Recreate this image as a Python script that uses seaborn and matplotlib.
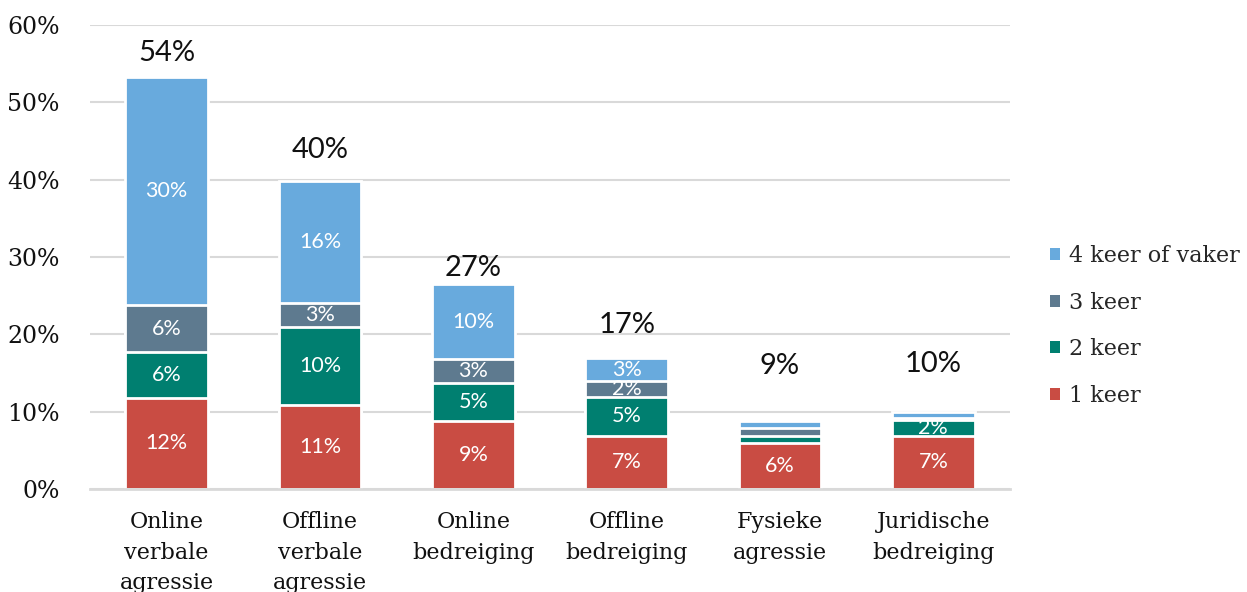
import matplotlib
matplotlib.use("Agg")
import matplotlib.pyplot as plt
import seaborn as sns
import numpy as np
import pandas as pd
from matplotlib.patches import Patch

categories = ["Online\nverbale\nagressie", "Offline\nverbale\nagressie", "Online\nbedreiging",
              "Offline\nbedreiging", "Fysieke\nagressie", "Juridische\nbedreiging"]
series_names = ["1 keer", "2 keer", "3 keer", "4 keer of vaker"]
keer1 = [11.8, 10.9, 8.8, 6.9, 6.0, 6.9]
keer2 = [5.9, 10.1, 4.9, 5.0, 0.9, 2.0]
keer3 = [6.1, 3.1, 3.1, 2.1, 1.0, 0.3]
keer4 = [29.5, 15.7, 9.7, 2.9, 0.9, 0.8]
seg_labels1 = ["12%", "11%", "9%", "7%", "6%", "7%"]
seg_labels2 = ["6%", "10%", "5%", "5%", "", "2%"]
seg_labels3 = ["6%", "3%", "3%", "2%", "", ""]
seg_labels4 = ["30%", "16%", "10%", "3%", "", ""]
total_labels = ["54%", "40%", "27%", "17%", "9%", "10%"]
total_label_y = [56.4, 43.8, 28.6, 21.2, 15.9, 16.2]
yticks = [0, 10, 20, 30, 40, 50, 60]
ytick_labels = ["0%", "10%", "20%", "30%", "40%", "50%", "60%"]
colors = ["#C94C43", "#007F70", "#5E7A8F", "#68AADD"]

sns.set_theme(style="white")
serif = ["DejaVu Serif"]
sans = ["Lato", "DejaVu Sans"]

fig = plt.figure(figsize=(12.47, 5.92), dpi=100)
ax = fig.add_axes([90 / 1247, (592 - 489) / 592, 920 / 1247, (489 - 25) / 592])

series = [keer1, keer2, keer3, keer4]
cum = np.cumsum(np.array(series), axis=0)
# draw from top (largest cumulative) to bottom
for i in range(3, -1, -1):
    df = pd.DataFrame({"cat": categories, "val": cum[i]})
    sns.barplot(data=df, x="cat", y="val", color=colors[i], width=0.54,
                edgecolor="white", linewidth=2, saturation=1, ax=ax, zorder=2)

seg_labels = [seg_labels1, seg_labels2, seg_labels3, seg_labels4]
for i in range(4):
    for j in range(len(categories)):
        if seg_labels[i][j]:
            base = cum[i - 1][j] if i > 0 else 0
            ax.text(j, base + series[i][j] / 2, seg_labels[i][j], ha="center", va="center",
                    color="white", fontsize=15.5, family=sans, zorder=3)

for j, (lab, yy) in enumerate(zip(total_labels, total_label_y)):
    ax.text(j, yy, lab, ha="center", va="center", color="#111111", fontsize=21, family=sans)

ax.set_xlim(-0.5, 5.5)
ax.set_ylim(0, 60)
ax.set_yticks(yticks)
ax.set_yticklabels(ytick_labels, family=serif, fontsize=17, color="#111111")
ax.set_xticks(range(len(categories)))
ax.set_xticklabels(categories, family=serif, fontsize=16, color="#111111", linespacing=1.5)
ax.tick_params(axis="y", length=0, pad=22)
ax.tick_params(axis="x", length=0, pad=16)
ax.set_xlabel("")
ax.set_ylabel("")
ax.yaxis.grid(True, color="#D9D9D9", linewidth=1.5, zorder=0)
ax.set_axisbelow(True)
for s in ["top", "right", "left"]:
    ax.spines[s].set_visible(False)
ax.spines["bottom"].set_color("#D9D9D9")
ax.spines["bottom"].set_linewidth(2)

handles = [Patch(facecolor=colors[i], edgecolor="none") for i in range(3, -1, -1)]
labels = [series_names[i] for i in range(3, -1, -1)]
fig.legend(handles, labels, loc="center left", bbox_to_anchor=(1050 / 1247, 1 - 326 / 592),
           frameon=False, prop={"family": serif, "size": 16}, handlelength=0.45,
           handleheight=0.45, handletextpad=0.4, labelspacing=1.1, borderaxespad=0,
           borderpad=0)

fig.savefig("out.png", dpi=100)
